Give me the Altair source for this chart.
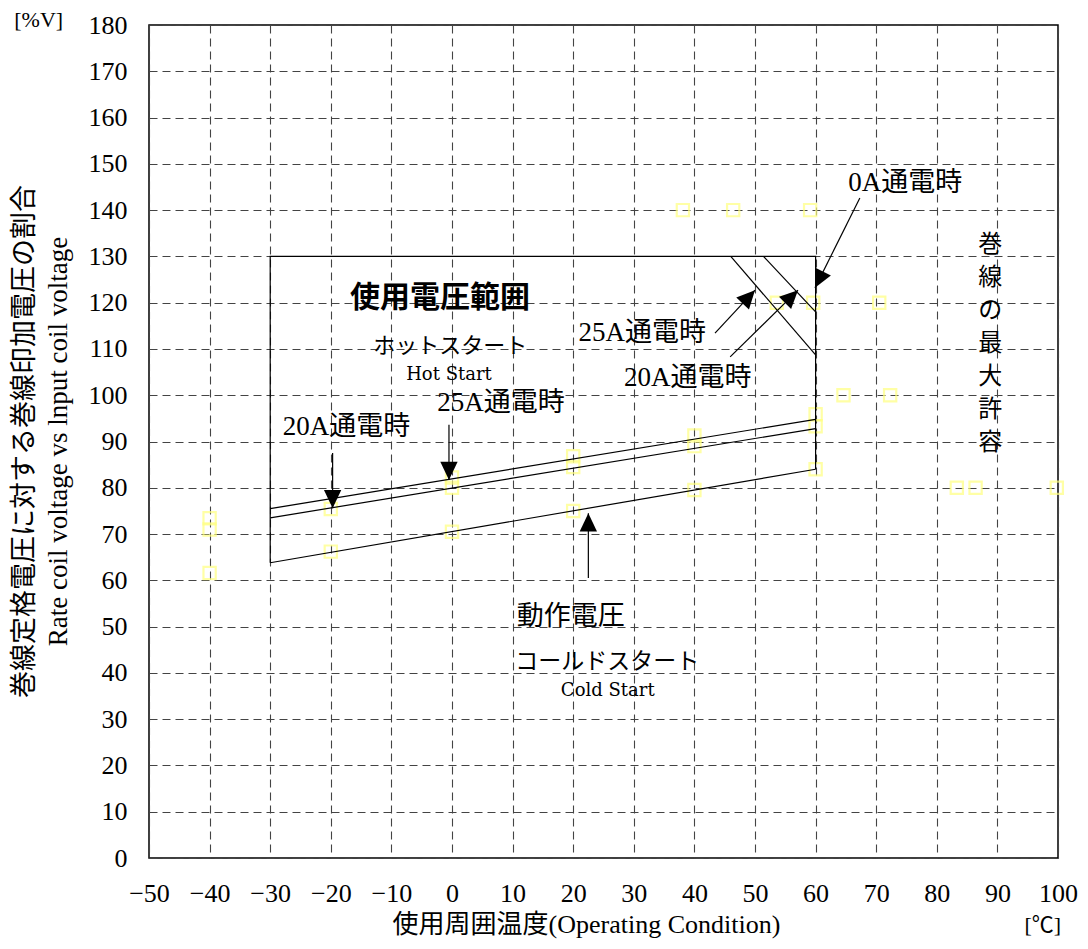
import math
import altair as alt
import pandas as pd

# ---------------- data ----------------
# yellow measurement squares
pt_x = [-40, -40, -40, -20, -20, 0, 0, 0, 20, 20, 20, 40, 40, 40, 60, 60, 60,
        38.1, 46.4, 59.1, 53.6, 59.6, 70.5, 64.6, 72.3, 83.3, 86.4, 99.8]
pt_y = [73.4, 71.0, 61.6, 75.4, 66.2, 82.2, 80.0, 70.5, 86.8, 84.5, 75.0,
        91.3, 89.0, 79.5, 95.9, 93.3, 84.0,
        140, 140, 140, 120, 120, 120, 100, 100, 80, 80, 80]

# black outline lines (operating range box, voltage lines, max-coil lines)
line_id = ["cold", "cold", "a25", "a25", "a20", "a20",
           "box", "box", "box", "box", "d1", "d1", "d2", "d2"]
line_x = [-30, 60, -30, 60, -30, 60, -30, -30, 60, 60, 46.0, 60, 51.4, 60]
line_y = [63.8, 84.0, 73.5, 92.8, 75.5, 94.8, 63.8, 130, 130, 84.0,
          130, 108.7, 130, 118.0]

# arrows: tail -> tip
arr_x0 = [67.3, 43.4, 45.9, -19.7, -0.5, 22.5]
arr_y0 = [142.6, 113.4, 108.3, 87.5, 93.6, 60.5]
arr_x1 = [59.9, 50.0, 57.1, -19.7, -0.5, 22.5]
arr_y1 = [123.2, 122.7, 122.7, 75.6, 81.7, 74.5]

# annotation texts
ann_text = ["0A通電時", "25A通電時", "20A通電時", "20A通電時", "25A通電時",
            "動作電圧", "コールドスタート", "ホットスタート"]
ann_x = [74.8, 31.4, 38.9, -17.4, 8.1, 19.6, 25.6, -0.3]
ann_y = [145.9, 113.4, 103.7, 93.1, 98.3, 52.1, 42.4, 110.6]
ann_size = [27, 27, 27, 27, 27, 27, 23, 22]

eng_text = ["Hot Start", "Cold Start"]
eng_x = [-0.5, 25.7]
eng_y = [104.4, 36.1]

bold_text = ["使用電圧範囲"]
bold_x = [-2.0]
bold_y = [121.0]

vert_text = ["巻\n線\nの\n最\n大\n許\n容"]
vert_x = [88.8]
vert_y = [132.5]

unit_text = ["[%V]", "[℃]"]
unit_x = [-68.2, 97.5]
unit_y = [181.1, -14.5]

x_ticks = list(range(-50, 101, 10))
y_ticks = list(range(0, 181, 10))

# ---------------- chart ----------------
W, H = 909, 833
XDOM, YDOM = [-50, 100], [0, 180]
SX = W / (XDOM[1] - XDOM[0])
SY = H / (YDOM[1] - YDOM[0])

SERIF = "Liberation Serif, 'Noto Sans CJK JP'"
CJK = "'Noto Sans CJK JP'"

xs = alt.Scale(domain=XDOM, nice=False, zero=False)
ys = alt.Scale(domain=YDOM, nice=False, zero=False)

pts = pd.DataFrame({"x": pt_x, "y": pt_y})
lines = pd.DataFrame({"id": line_id, "x": line_x, "y": line_y,
                      "o": list(range(len(line_x)))})
angles = []
for a, b, c, d in zip(arr_x0, arr_y0, arr_x1, arr_y1):
    dx = (c - a) * SX
    dy = -(d - b) * SY
    angles.append(math.degrees(math.atan2(dx, -dy)) % 360)
arrows = pd.DataFrame({"x0": arr_x0, "y0": arr_y0, "x1": arr_x1,
                       "y1": arr_y1, "ang": angles})
ann = pd.DataFrame({"t": ann_text, "x": ann_x, "y": ann_y, "s": ann_size})
eng = pd.DataFrame({"t": eng_text, "x": eng_x, "y": eng_y})
bold = pd.DataFrame({"t": bold_text, "x": bold_x, "y": bold_y})
vert = pd.DataFrame({"t": vert_text, "x": vert_x, "y": vert_y})
units = pd.DataFrame({"t": unit_text, "x": unit_x, "y": unit_y})

x_axis = alt.Axis(values=x_ticks, grid=True, gridDash=[8, 5], gridColor="#444",
                  gridWidth=1.1, domain=False, ticks=False, labelOverlap=False,
                  labelFlush=False,
                  labelFont="Liberation Serif", labelFontSize=26,
                  labelColor="black", labelPadding=22,
                  title="使用周囲温度(Operating Condition)",
                  titleFont=SERIF, titleFontSize=26, titleFontWeight="normal",
                  titleColor="black", titleX=437, titleY=66,
                  titleBaseline="middle", titleAlign="center")
y_axis = alt.Axis(values=y_ticks, grid=True, gridDash=[8, 5], gridColor="#444",
                  gridWidth=1.1, domain=False, ticks=False, labelOverlap=False,
                  labelFlush=False,
                  labelFont="Liberation Serif", labelFontSize=26,
                  labelColor="black", labelPadding=22,
                  title=["巻線定格電圧に対する巻線印加電圧の割合",
                         "Rate coil voltage vs lnput coil voltage"],
                  titleFont=SERIF, titleFontSize=27, titleFontWeight="normal",
                  titleColor="black", titleAngle=270, titleX=-138, titleY=416,
                  titleBaseline="top", titleAlign="center", titleLineHeight=34)

points = alt.Chart(pts).mark_square(filled=False, color="#ffff80",
                                    strokeWidth=2.2, size=150).encode(
    x=alt.X("x:Q", scale=xs, axis=x_axis),
    y=alt.Y("y:Q", scale=ys, axis=y_axis),
)

line_layer = alt.Chart(lines).mark_line(color="black", strokeWidth=1.2).encode(
    x=alt.X("x:Q", scale=xs), y=alt.Y("y:Q", scale=ys),
    detail="id:N", order="o:Q")

shafts = alt.Chart(arrows).mark_rule(color="black", strokeWidth=1.2).encode(
    x=alt.X("x0:Q", scale=xs), y=alt.Y("y0:Q", scale=ys),
    x2="x1:Q", y2="y1:Q")

heads = alt.Chart(arrows).mark_point(
    shape="M0,0L-1,2.1L1,2.1Z", filled=True, color="black",
    opacity=1, strokeWidth=0, size=300).encode(
    x=alt.X("x1:Q", scale=xs), y=alt.Y("y1:Q", scale=ys),
    angle=alt.Angle("ang:Q", scale=None))

ann_layer = alt.Chart(ann).mark_text(font=SERIF, color="black",
                                     align="center", baseline="middle").encode(
    x=alt.X("x:Q", scale=xs), y=alt.Y("y:Q", scale=ys), text="t:N",
    size=alt.Size("s:Q", scale=None))

eng_layer = alt.Chart(eng).mark_text(font="DejaVu Serif", fontSize=18,
                                     color="black", align="center",
                                     baseline="middle").encode(
    x=alt.X("x:Q", scale=xs), y=alt.Y("y:Q", scale=ys), text="t:N")

bold_layer = alt.Chart(bold).mark_text(font=CJK, fontSize=30, fontWeight="bold",
                                       color="black", align="center",
                                       baseline="middle").encode(
    x=alt.X("x:Q", scale=xs), y=alt.Y("y:Q", scale=ys), text="t:N")

vert_layer = alt.Chart(vert).mark_text(font=SERIF, fontSize=24, color="black",
                                       align="center", baseline="middle",
                                       lineBreak="\n", lineHeight=33).encode(
    x=alt.X("x:Q", scale=xs), y=alt.Y("y:Q", scale=ys), text="t:N")

unit_layer = alt.Chart(units).mark_text(font=SERIF, fontSize=22, color="black",
                                        align="center", baseline="middle").encode(
    x=alt.X("x:Q", scale=xs), y=alt.Y("y:Q", scale=ys), text="t:N")

chart = alt.layer(points, line_layer, shafts, heads, ann_layer, eng_layer,
                  bold_layer, vert_layer, unit_layer).properties(
    width=W, height=H,
    autosize=alt.AutoSizeParams(type="none"),
    padding={"left": 141, "top": 17, "right": 22, "bottom": 83},
    background="white",
).configure_view(stroke="black", strokeWidth=1.5)

chart.save("out.html", embed_options={"renderer": "svg", "actions": False})
